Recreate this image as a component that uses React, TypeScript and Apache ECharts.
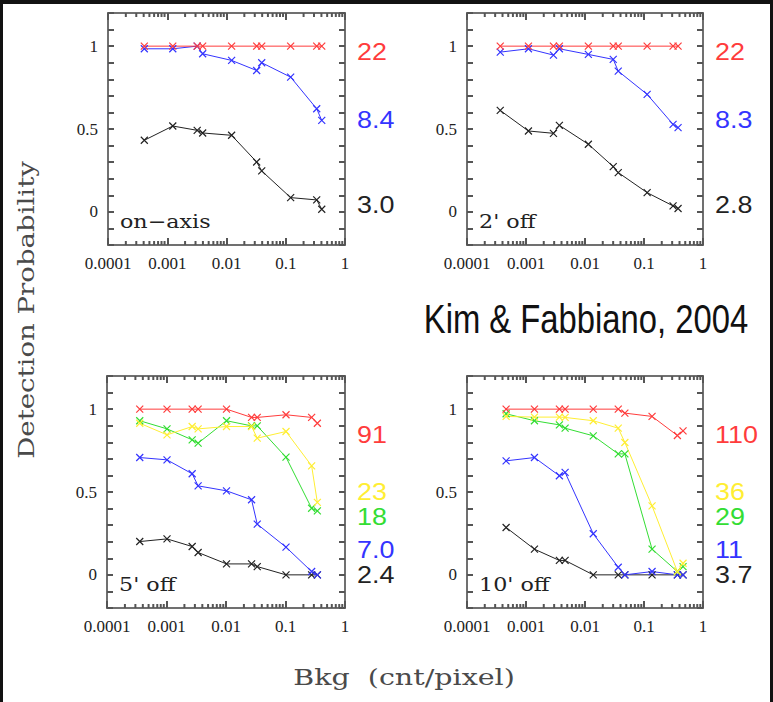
import React, { useEffect, useRef } from "react";
import * as echarts from "echarts";

// ---------- data ----------
const tickLabels = ["0.0001", "0.001", "0.01", "0.1", "1"];
const yTickLabels: Record<string, string> = { "0": "0", "0.5": "0.5", "1": "1" };

const tlX = [4.1e-4, 1.24e-3, 3.2e-3, 3.96e-3, 0.0122, 0.0323, 0.0393, 0.121, 0.333, 0.405];
const tlRed = [1, 1, 1, 1, 1, 1, 1, 1, 1, 1];
const tlBlue = [0.984, 0.984, 1.0, 0.954, 0.914, 0.853, 0.9, 0.813, 0.622, 0.552];
const tlBlack = [0.432, 0.518, 0.492, 0.476, 0.462, 0.301, 0.247, 0.086, 0.072, 0.016];

const trX = [3.66e-4, 1.1e-3, 2.92e-3, 3.68e-3, 0.0114, 0.0301, 0.0366, 0.113, 0.311, 0.378];
const trRed = [1, 1, 1, 1, 1, 1, 1, 1, 1, 1];
const trBlue = [0.964, 0.984, 0.946, 0.984, 0.95, 0.92, 0.849, 0.709, 0.528, 0.508];
const trBlack = [0.612, 0.488, 0.474, 0.522, 0.408, 0.273, 0.237, 0.116, 0.036, 0.02];

const blX = [3.55e-4, 1.02e-3, 2.7e-3, 3.4e-3, 0.0102, 0.0269, 0.0335, 0.102, 0.275, 0.343];
const blRed = [1, 1, 1, 1, 1, 0.95, 0.95, 0.966, 0.95, 0.915];
const blYellow = [0.915, 0.845, 0.895, 0.881, 0.895, 0.895, 0.825, 0.865, 0.658, 0.437];
const blGreen = [0.93, 0.881, 0.815, 0.795, 0.93, 0.899, 0.899, 0.71, 0.402, 0.386];
const blBlue = [0.708, 0.694, 0.61, 0.537, 0.507, 0.453, 0.306, 0.167, 0.02, 0.0];
const blBlack = [0.201, 0.217, 0.171, 0.135, 0.066, 0.066, 0.05, 0, 0, 0];

const brX = [4.6e-4, 1.39e-3, 3.68e-3, 4.6e-3, 0.0138, 0.0366, 0.0474, 0.137, 0.368, 0.459];
const brRed = [1, 1, 1, 1, 1, 1, 0.976, 0.956, 0.841, 0.869];
const brYellow = [0.956, 0.952, 0.952, 0.95, 0.93, 0.885, 0.799, 0.416, 0.02, 0.07];
const brGreen = [0.972, 0.93, 0.905, 0.885, 0.839, 0.73, 0.73, 0.155, 0.02, 0.05];
const brBlue = [0.688, 0.708, 0.598, 0.618, 0.248, 0.046, 0, 0.02, 0, 0];
const brBlack = [0.286, 0.155, 0.087, 0.087, 0, 0, 0, 0, 0, 0];

const panelNames = ["on\u2212axis", "2' off", "5' off", "10' off"];
const rightLabels = [
  ["22", "8.4", "3.0"],
  ["22", "8.3", "2.8"],
  ["91", "23", "18", "7.0", "2.4"],
  ["110", "36", "29", "11", "3.7"],
];

// ---------- styling / layout ----------
const COLORS: Record<string, string> = {
  red: "#ff3c3c",
  yellow: "#ffee33",
  green: "#33dd33",
  blue: "#3434ff",
  black: "#222222",
};
const LABEL_COLORS = [
  ["red", "blue", "black"],
  ["red", "blue", "black"],
  ["red", "yellow", "green", "blue", "black"],
  ["red", "yellow", "green", "blue", "black"],
];
const LABEL_Y = [
  [52, 120, 205],
  [52, 120, 205],
  [435, 492, 517, 550, 575],
  [435, 492, 517, 550, 575],
];

const GRIDS = [
  { left: 108, top: 13, width: 237, height: 232 },
  { left: 467, top: 13, width: 236, height: 232 },
  { left: 107, top: 376, width: 238, height: 232 },
  { left: 467, top: 376, width: 236, height: 232 },
];
const X_MIN = 1e-4;
const X_MAX = 1;
const Y_MIN = -0.2;
const Y_MAX = 1.2;
const AXIS_COLOR = "#707070";
const TICK_COLOR = "#555555";

const xMinorTicks: number[] = [];
for (let k = -4; k < 0; k++) {
  for (let d = 2; d <= 9; d++) xMinorTicks.push(d * Math.pow(10, k));
}

const PANELS = [
  { x: tlX, series: [["black", tlBlack], ["blue", tlBlue], ["red", tlRed]] },
  { x: trX, series: [["black", trBlack], ["blue", trBlue], ["red", trRed]] },
  {
    x: blX,
    series: [["black", blBlack], ["blue", blBlue], ["green", blGreen], ["yellow", blYellow], ["red", blRed]],
  },
  {
    x: brX,
    series: [["black", brBlack], ["blue", brBlue], ["green", brGreen], ["yellow", brYellow], ["red", brRed]],
  },
];

const CROSS = "path://M0,0L10,10M10,0L0,10";

// minor log tick marks as small rect symbols placed through the axes' scales
function minorTickMarks(i: number, yVal: number, dir: number) {
  return {
    type: "scatter",
    xAxisIndex: 2 * i,
    yAxisIndex: 2 * i,
    silent: true,
    clip: false,
    z: 5,
    data: xMinorTicks.map((v) => [v, yVal]),
    symbol: "rect",
    symbolSize: [2, 4],
    symbolOffset: [0, 2 * dir],
    itemStyle: { color: TICK_COLOR, opacity: 1 },
    emphasis: { disabled: true },
  };
}

function buildOption() {
  const xAxis: any[] = [];
  const yAxis: any[] = [];
  const series: any[] = [];
  const graphic: any[] = [];

  GRIDS.forEach((g, i) => {
    const mkX = (pos: string, showLabel: boolean) => ({
      type: "log",
      logBase: 10,
      min: X_MIN,
      max: X_MAX,
      gridIndex: i,
      position: pos,
      splitLine: { show: false },
      axisLine: { show: true, onZero: false, lineStyle: { color: AXIS_COLOR, width: 2 } },
      axisTick: { show: true, inside: true, length: 7, lineStyle: { color: TICK_COLOR, width: 2 } },
      axisLabel: {
        show: showLabel,
        margin: 10,
        color: "#222",
        fontFamily: "Liberation Serif",
        fontSize: 17,
        formatter: (v: number) => tickLabels[Math.round(Math.log10(v)) + 4] ?? "",
      },
    });
    xAxis.push(mkX("bottom", true));
    xAxis.push(mkX("top", false));

    const mkY = (pos: string, showLabel: boolean) => ({
      type: "value",
      min: Y_MIN,
      max: Y_MAX,
      interval: 0.1,
      gridIndex: i,
      position: pos,
      splitLine: { show: false },
      axisLine: { show: true, onZero: false, lineStyle: { color: AXIS_COLOR, width: 2 } },
      axisTick: { show: true, inside: true, length: 6, lineStyle: { color: TICK_COLOR, width: 2 } },
      axisLabel: {
        show: showLabel,
        margin: 10,
        color: "#222",
        fontFamily: "Liberation Serif",
        fontSize: 17,
        formatter: (v: number) => {
          const key = String(Math.round(v * 10) / 10);
          return yTickLabels[key] ?? "";
        },
      },
    });
    yAxis.push(mkY("left", true));
    yAxis.push(mkY("right", false));

    series.push(minorTickMarks(i, Y_MIN, -1));
    series.push(minorTickMarks(i, Y_MAX, 1));

    const panel = PANELS[i];
    panel.series.forEach(([cname, vals]: any) => {
      const c = COLORS[cname];
      series.push({
        type: "line",
        name: `${panelNames[i]} ${cname}`,
        xAxisIndex: 2 * i,
        yAxisIndex: 2 * i,
        data: panel.x.map((x: number, k: number) => [x, vals[k]]),
        symbol: CROSS,
        symbolSize: 7,
        showAllSymbol: true,
        z: 3,
        lineStyle: { color: c, width: 1 },
        itemStyle: { color: c, borderColor: c, borderWidth: 1.2 },
        emphasis: { disabled: true },
      });
    });

    // panel name
    graphic.push({
      type: "text",
      x: g.left + 12,
      y: g.top + g.height - 23,
      scaleX: 1.17,
      style: {
        text: panelNames[i],
        font: '19px "DejaVu Serif"',
        fill: "#222",
        textAlign: "left",
        textVerticalAlign: "middle",
      },
    });

    // right-side numbers
    rightLabels[i].forEach((txt, k) => {
      graphic.push({
        type: "text",
        x: g.left + g.width + 12,
        y: LABEL_Y[i][k],
        scaleX: 1.12,
        style: {
          text: txt,
          font: '24px "Liberation Sans"',
          fill: COLORS[LABEL_COLORS[i][k]],
          textAlign: "left",
          textVerticalAlign: "middle",
        },
      });
    });
  });

  // titles
  graphic.push({
    type: "text",
    x: 26,
    y: 310,
    rotation: Math.PI / 2,
    scaleX: 1.2,
    style: {
      text: "Detection Probability",
      font: '23px "DejaVu Serif"',
      fill: "#4a4a4a",
      textAlign: "center",
      textVerticalAlign: "middle",
    },
  });
  graphic.push({
    type: "text",
    x: 404,
    y: 677,
    scaleX: 1.24,
    style: {
      text: "Bkg  (cnt/pixel)",
      font: '23px "DejaVu Serif"',
      fill: "#4a4a4a",
      textAlign: "center",
      textVerticalAlign: "middle",
    },
  });
  graphic.push({
    type: "text",
    x: 586,
    y: 319,
    scaleX: 0.8,
    style: {
      text: "Kim & Fabbiano, 2004",
      font: '41px "Liberation Sans"',
      fill: "#111",
      textAlign: "center",
      textVerticalAlign: "middle",
    },
  });

  // dark frame
  graphic.push({ type: "rect", shape: { x: 0, y: 0, width: 773, height: 4 }, style: { fill: "#121212" } });
  graphic.push({ type: "rect", shape: { x: 0, y: 0, width: 3, height: 702 }, style: { fill: "#121212" } });
  graphic.push({ type: "rect", shape: { x: 770, y: 0, width: 3, height: 702 }, style: { fill: "#121212" } });

  return {
    animation: false,
    backgroundColor: "#ffffff",
    grid: GRIDS.map((g) => ({ ...g })),
    xAxis,
    yAxis,
    series,
    graphic,
  };
}

export default function App() {
  const ref = useRef<HTMLDivElement>(null);
  useEffect(() => {
    if (!ref.current) return;
    const chart = echarts.init(ref.current, undefined, { renderer: "svg" });
    chart.setOption(buildOption() as any);
    return () => chart.dispose();
  }, []);
  return (
    <div style={{ position: "absolute", left: 0, top: 0, width: 773, height: 702, background: "#fff" }}>
      <div ref={ref} style={{ width: 773, height: 702 }} />
    </div>
  );
}
